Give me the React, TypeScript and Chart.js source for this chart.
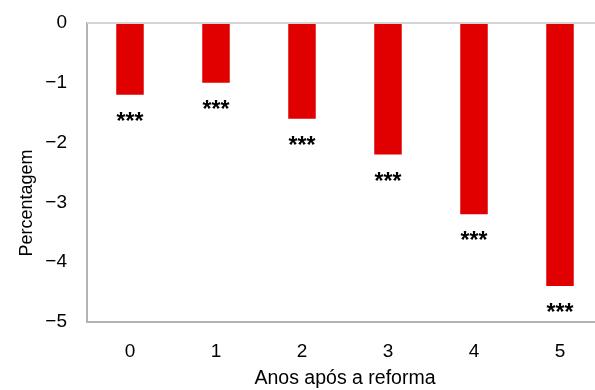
import React, { useEffect, useRef } from "react";
import { Chart, registerables } from "chart.js";

Chart.register(...registerables);

const categories = ["0", "1", "2", "3", "4", "5"];
const values = [-1.2, -1.0, -1.6, -2.2, -3.2, -4.4];
const significance = ["***", "***", "***", "***", "***", "***"];
const yTicks = [0, -1, -2, -3, -4, -5];
const xTitle = "Anos após a reforma";
const yTitle = "Percentagem";

const FONT = "'Liberation Sans', Arial, sans-serif";

export default function App() {
  const ref = useRef<HTMLCanvasElement>(null);
  useEffect(() => {
    if (!ref.current) return;
    const starsPlugin = {
      id: "stars",
      afterDatasetsDraw(chart: any) {
        const ctx = chart.ctx;
        const y0 = chart.scales.y.getPixelForValue(0);
        ctx.save();
        ctx.strokeStyle = "#d4d4d4";
        ctx.lineWidth = 2;
        ctx.beginPath();
        ctx.moveTo(chart.chartArea.left, y0);
        ctx.lineTo(chart.chartArea.right + 10, y0);
        ctx.stroke();
        ctx.restore();

        const meta = chart.getDatasetMeta(0);
        ctx.save();
        ctx.fillStyle = "#000";
        ctx.font = `bold 23px ${FONT}`;
        ctx.textAlign = "center";
        ctx.textBaseline = "alphabetic";
        meta.data.forEach((bar: any, i: number) => {
          ctx.fillText(significance[i], bar.x, bar.y + 34);
        });
        ctx.restore();
      },
    };
    const yTitlePlugin = {
      id: "ytitle",
      afterDraw(chart: any) {
        const ctx = chart.ctx;
        ctx.save();
        ctx.translate(27, 203);
        ctx.rotate(-Math.PI / 2);
        ctx.fillStyle = "#000";
        ctx.font = `18px ${FONT}`;
        ctx.textAlign = "center";
        ctx.textBaseline = "middle";
        ctx.fillText(yTitle, 0, 0);
        ctx.restore();
      },
    };
    const chart = new Chart(ref.current, {
      type: "bar",
      data: {
        labels: categories,
        datasets: [
          {
            data: values,
            backgroundColor: "#e00000",
            borderWidth: 0,
            barPercentage: 0.32,
            categoryPercentage: 1,
          },
        ],
      },
      plugins: [starsPlugin, yTitlePlugin],
      options: {
        responsive: false,
        animation: false,
        layout: { padding: { top: 23, right: 7, left: 0, bottom: 0 } },
        plugins: { legend: { display: false }, tooltip: { enabled: false } },
        scales: {
          x: {
            grid: { display: false, drawTicks: false },
            border: { display: true, color: "#b3b3b3", width: 2 },
            ticks: { color: "#000", font: { family: FONT, size: 19 }, padding: 18 },
            title: {
              display: true,
              text: xTitle,
              color: "#000",
              font: { family: FONT, size: 19.5 },
              padding: { top: 2, bottom: 0 },
            },
            afterFit(scale: any) {
              scale.height = 68;
              scale.paddingLeft = 0;
              scale.paddingRight = 0;
            },
          },
          y: {
            min: -5,
            max: 0,
            afterBuildTicks(scale: any) {
              scale.ticks = yTicks.map((v) => ({ value: v }));
            },
            grid: { display: false, drawTicks: false },
            border: { display: true, color: "#b3b3b3", width: 2 },
            ticks: {
              color: "#000",
              font: { family: FONT, size: 19 },
              padding: 20,
              callback: (v: any) => (Number(v) < 0 ? "\u2212" + Math.abs(Number(v)) : String(v)),
            },
            afterFit(scale: any) {
              scale.width = 87;
              scale.paddingTop = 0;
              scale.paddingBottom = 0;
            },
          },
        },
      },
    });
    return () => chart.destroy();
  }, []);
  return (
    <div style={{ position: "fixed", left: 0, top: 0, width: 595, height: 390, overflow: "hidden", background: "#fff" }}>
      <canvas ref={ref} width={610} height={390} style={{ display: "block" }} />
    </div>
  );
}
